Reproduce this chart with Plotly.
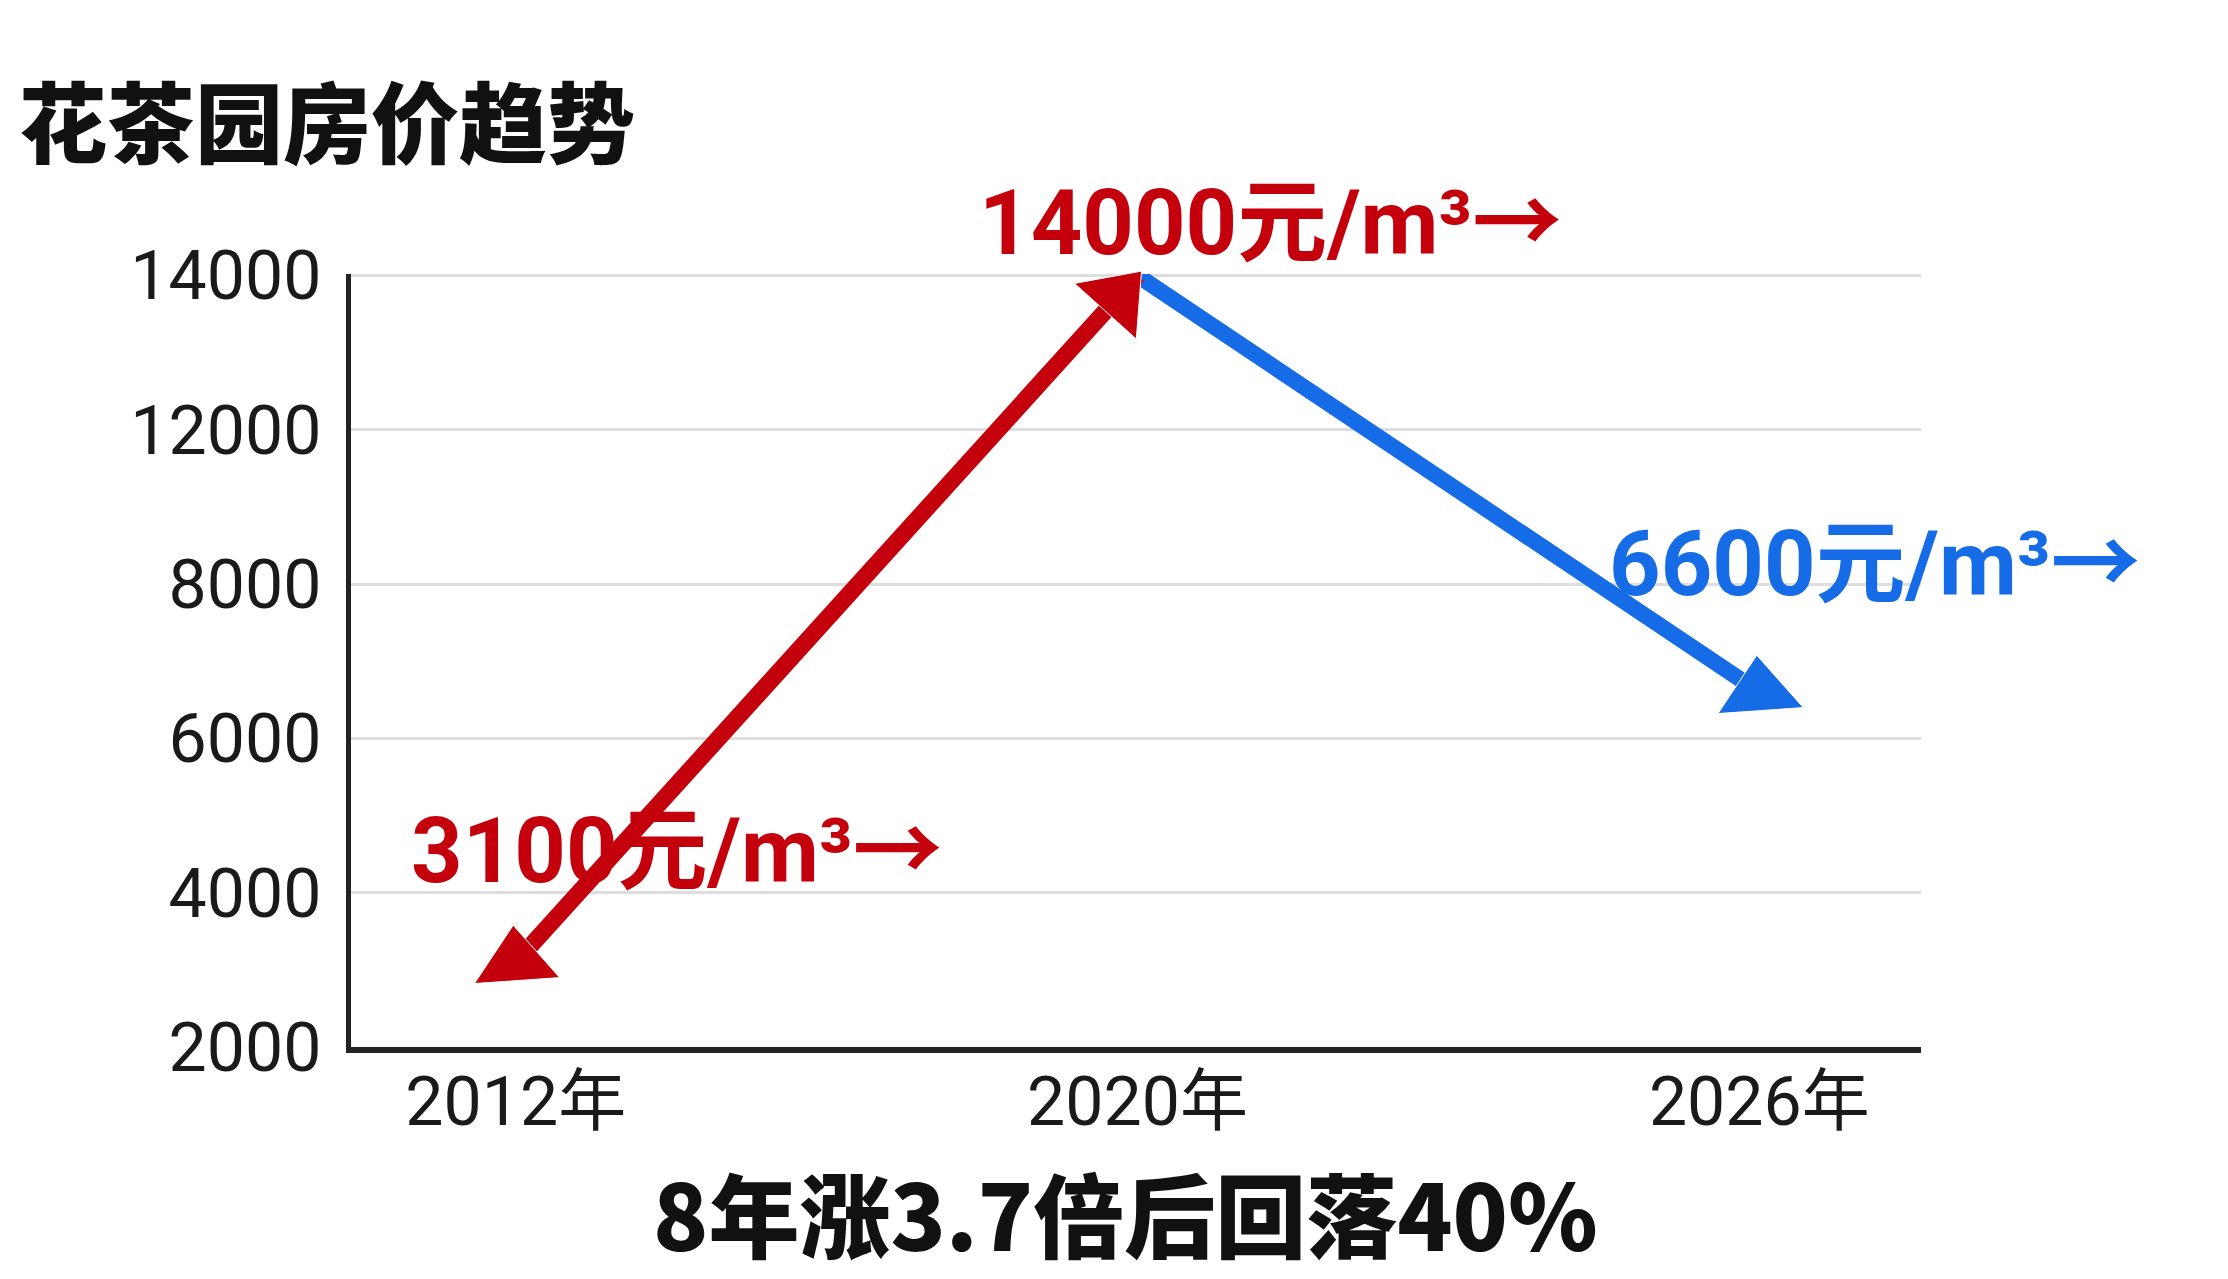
import numpy as np
import plotly.graph_objects as go

# ---- data ----
years = ["2012年", "2020年", "2026年"]
prices = [3100, 14000, 6600]
price_labels = ["3100元/m³→", "14000元/m³→", "6600元/m³→"]
tick_values = [2000, 4000, 6000, 8000, 12000, 14000]
tick_labels = ["2000", "4000", "6000", "8000", "12000", "14000"]
title_text = "花茶园房价趋势"
subtitle_text = "8年涨3.7倍后回落40%"

# the axis places its (unevenly valued) ticks at even steps
tick_pos = list(range(len(tick_values)))


def to_axis(v):
    return float(np.interp(v, tick_values, tick_pos))


x_idx = list(range(len(years)))
y_pos = [to_axis(p) for p in prices]

RED = "#C4000C"
BLUE = "#166BE6"
FONT = "Roboto, 'Noto Sans CJK SC', sans-serif"
CJK = "'Noto Sans CJK SC', sans-serif"

W, H = 2220, 1271

fig = go.Figure()

# falling segment (drawn first so the red arrowhead sits on top)
fig.add_trace(go.Scatter(
    x=[x_idx[2], x_idx[1]], y=[y_pos[2], y_pos[1]],
    mode="lines+markers",
    line=dict(color=BLUE, width=16),
    marker=dict(symbol="triangle-up", size=[74, 0], angle=[-4, 0],
                color=BLUE, opacity=1),
    cliponaxis=False, hoverinfo="skip",
))

# rising segment
fig.add_trace(go.Scatter(
    x=x_idx[:2], y=y_pos[:2],
    mode="lines+markers",
    line=dict(color=RED, width=17, backoff=12),
    marker=dict(symbol="triangle-up", size=[74, 72], angle=[-4, 42],
                standoff=[0, 30], color=RED, opacity=1),
    cliponaxis=False, hoverinfo="skip",
))

label_colors = [RED, RED, BLUE]
label_shift = [(161, 111), (133, 52), (115, 128)]
for i in range(len(prices)):
    fig.add_annotation(
        x=x_idx[i], y=y_pos[i], xref="x", yref="y",
        text=price_labels[i], showarrow=False,
        xanchor="center", yanchor="middle",
        xshift=label_shift[i][0], yshift=label_shift[i][1],
        font=dict(family=FONT, size=90, color=label_colors[i], weight="bold"),
    )

fig.add_annotation(
    x=0.493, y=-0.212, xref="paper", yref="paper",
    text=subtitle_text, showarrow=False,
    xanchor="center", yanchor="middle",
    font=dict(family=CJK, size=91, color="#111111", weight=900),
)

fig.update_layout(
    width=W, height=H,
    margin=dict(l=343, r=307, t=266, b=232),
    paper_bgcolor="white", plot_bgcolor="white",
    showlegend=False, hovermode=False,
    title=dict(
        text=title_text, xref="container", yref="container",
        x=11 / W, xanchor="left", y=1 - 117 / H, yanchor="middle",
        font=dict(family=CJK, size=88, color="#111111", weight=900),
    ),
)

fig.update_xaxes(
    range=[-0.265, 2.26], tickmode="array", tickvals=x_idx, ticktext=years,
    showgrid=False, zeroline=False, showline=True, linecolor="#222222",
    linewidth=6, ticks="", ticklabelstandoff=-10,
    tickfont=dict(family=FONT, size=68, color="#1a1a1a"),
)
fig.update_yaxes(
    range=[0, 5.01], tickmode="array", tickvals=tick_pos, ticktext=tick_labels,
    showgrid=True, gridcolor="#DEDEDE", gridwidth=3, zeroline=False,
    showline=True, linecolor="#222222", linewidth=5, ticks="",
    ticklabelstandoff=11,
    tickfont=dict(family=FONT, size=68, color="#1a1a1a"),
)

fig.write_html("out.html")
